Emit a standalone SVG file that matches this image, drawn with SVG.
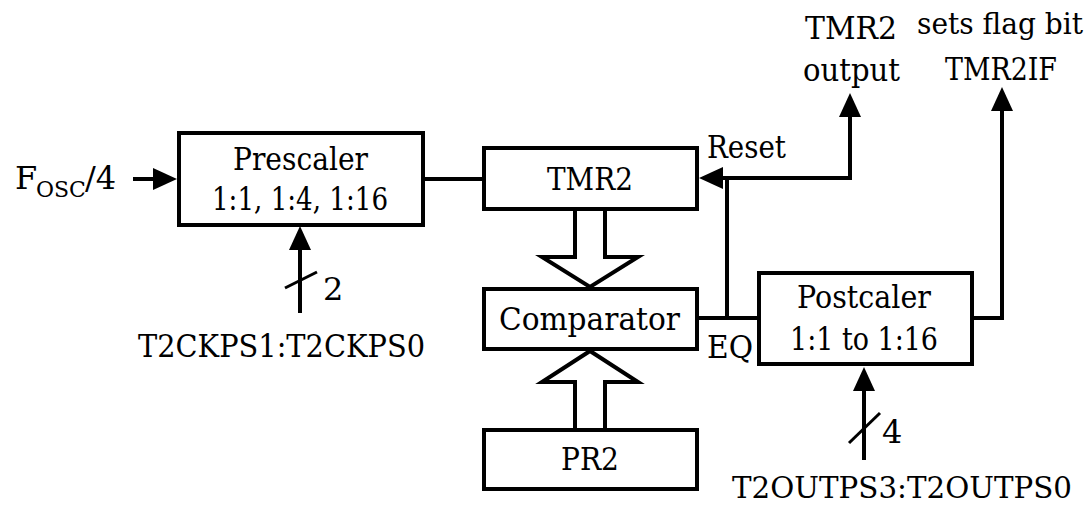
<svg xmlns="http://www.w3.org/2000/svg" width="1091" height="508" viewBox="0 0 1091 508">
  <style>
    .box { fill: #ffffff; stroke: #000000; stroke-width: 4; }
    .wire { fill: none; stroke: #000000; stroke-width: 4; stroke-linejoin: miter; }
    .slash { fill: none; stroke: #000000; stroke-width: 3; }
    .bus { fill: #ffffff; stroke: #000000; stroke-width: 4; stroke-linejoin: miter; }
    .t { font-family: 'DejaVu Serif', 'Liberation Serif', serif; font-size: 32px; fill: #000000; }
    .edge { font-size: 30px; text-anchor: end; }
  </style>
  <defs>
    <marker id="arrow" markerUnits="userSpaceOnUse" markerWidth="24" markerHeight="22" refX="2" refY="11" orient="auto-start-reverse">
      <path d="M0,0 L24,11 L0,22 z" fill="#000000"/>
    </marker>
  </defs>

  <!-- signal lines -->
  <g id="connectors">
    <path class="wire" d="M133,179 H155" marker-end="url(#arrow)"/>
    <path class="wire" d="M422,179 H484"/>
    <path class="wire" d="M721,178 H850 V115" marker-start="url(#arrow)" marker-end="url(#arrow)"/>
    <path class="wire" d="M727,178 V318"/>
    <path class="wire" d="M697,318 H759"/>
    <path class="wire" d="M972,318 H1002 V109" marker-end="url(#arrow)"/>
    <path class="wire" d="M300,313 V248" marker-end="url(#arrow)"/>
    <path class="slash" d="M285,288 L317,272"/>
    <path class="wire" d="M864,460 V389" marker-end="url(#arrow)"/>
    <path class="slash" d="M849,443 L880,413"/>
    <!-- wide bus arrows into the comparator -->
    <polygon class="bus" points="575,209 575,257 542,257 590,287 638,257 605,257 605,209"/>
    <polygon class="bus" points="575,430 575,382 542,382 590,351 638,382 605,382 605,430"/>
  </g>

  <g id="prescaler">
    <rect class="box" x="179" y="133" width="244" height="92"/>
    <text class="t" x="233" y="170" textLength="135" lengthAdjust="spacingAndGlyphs">Prescaler</text>
    <text class="t" x="212" y="210" textLength="176" lengthAdjust="spacingAndGlyphs">1:1, 1:4, 1:16</text>
  </g>

  <g id="tmr2">
    <rect class="box" x="484" y="148" width="213" height="61"/>
    <text class="t" x="547" y="190" textLength="86" lengthAdjust="spacingAndGlyphs">TMR2</text>
  </g>

  <g id="comparator">
    <rect class="box" x="484" y="289" width="213" height="60"/>
    <text class="t" x="499" y="330" textLength="181" lengthAdjust="spacingAndGlyphs">Comparator</text>
  </g>

  <g id="pr2">
    <rect class="box" x="484" y="430" width="213" height="59"/>
    <text class="t" x="561" y="470" textLength="58" lengthAdjust="spacingAndGlyphs">PR2</text>
  </g>

  <g id="postcaler">
    <rect class="box" x="759" y="273" width="213" height="91"/>
    <text class="t" x="797" y="308" textLength="134" lengthAdjust="spacingAndGlyphs">Postcaler</text>
    <text class="t" x="790" y="350" textLength="148" lengthAdjust="spacingAndGlyphs">1:1 to 1:16</text>
  </g>

  <g id="labels">
    <text class="t" x="15" y="189">F<tspan x="36" dy="8" font-size="22">OSC</tspan><tspan x="85" dy="-8">/4</tspan></text>
    <text class="t" x="707" y="158" textLength="79" lengthAdjust="spacingAndGlyphs">Reset</text>
    <text class="t" x="707" y="358" textLength="46" lengthAdjust="spacingAndGlyphs">EQ</text>
    <text class="t" x="805" y="39" textLength="92" lengthAdjust="spacingAndGlyphs">TMR2</text>
    <text class="t" x="803" y="81" textLength="97" lengthAdjust="spacingAndGlyphs">output</text>
    <text class="t edge" x="1083" y="34" textLength="166" lengthAdjust="spacingAndGlyphs">sets flag bit</text>
    <text class="t" x="945" y="80" textLength="112" lengthAdjust="spacingAndGlyphs">TMR2IF</text>
    <text class="t" x="323" y="300">2</text>
    <text class="t" x="882" y="443">4</text>
    <text class="t" x="138" y="357" textLength="287" lengthAdjust="spacingAndGlyphs">T2CKPS1:T2CKPS0</text>
    <text class="t edge" x="1072" y="498" textLength="340" lengthAdjust="spacingAndGlyphs">T2OUTPS3:T2OUTPS0</text>
  </g>
</svg>
